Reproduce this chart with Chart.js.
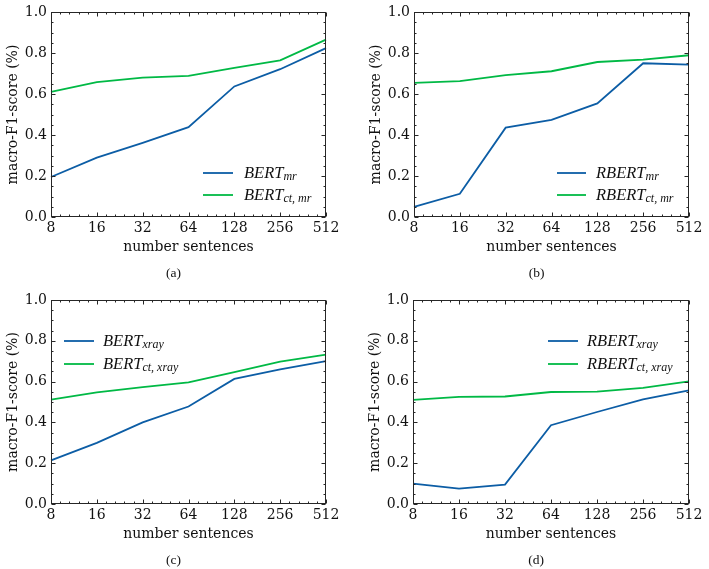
<!DOCTYPE html>
<html><head><meta charset="utf-8">
<script src="https://cdn.jsdelivr.net/npm/chart.js@4/dist/chart.umd.min.js"></script>
<style>
html,body{margin:0;padding:0;background:#fff;}
#wrap{position:relative;width:709px;height:569px;overflow:hidden;}
#wrap canvas{position:absolute;left:0;top:0;}
</style></head><body>
<div id="wrap">
<canvas id="ca" width="709" height="569"></canvas>
<canvas id="cb" width="709" height="569"></canvas>
<canvas id="cc" width="709" height="569"></canvas>
<canvas id="cd" width="709" height="569"></canvas>
</div>
<script>
// ---- data ----
const categories = ['8', '16', '32', '64', '128', '256', '512'];
const yTickValues = [0.0, 0.2, 0.4, 0.6, 0.8, 1.0];
const bertMr      = [0.195, 0.290, 0.362, 0.438, 0.637, 0.721, 0.824];
const bertCtMr    = [0.610, 0.658, 0.680, 0.688, 0.727, 0.764, 0.865];
const rbertMr     = [0.049, 0.113, 0.436, 0.474, 0.554, 0.750, 0.743];
const rbertCtMr   = [0.654, 0.663, 0.692, 0.711, 0.756, 0.768, 0.789];
const bertXray    = [0.214, 0.300, 0.400, 0.478, 0.613, 0.660, 0.700];
const bertCtXray  = [0.512, 0.547, 0.573, 0.596, 0.647, 0.698, 0.732];
const rbertXray   = [0.100, 0.075, 0.095, 0.386, 0.451, 0.513, 0.557];
const rbertCtXray = [0.510, 0.525, 0.527, 0.549, 0.551, 0.569, 0.601];
const captions = ['(a)', '(b)', '(c)', '(d)'];
const xTitle = 'number sentences';
const yTitle = 'macro-F1-score (%)';

// ---- style ----
const BLUE = '#0C5DA5', GREEN = '#00B945';
const W = 709, H = 569, YW = 51, XH = 45;
const SERIF = '"DejaVu Serif", serif';
const LEG = '"Liberation Serif", "Times New Roman", serif';

const framePlugin = {
  id: 'frame',
  afterDatasetsDraw(chart) {
    const {ctx, chartArea: a, scales: {x, y}} = chart;
    ctx.save();
    ctx.strokeStyle = '#262626';
    ctx.lineWidth = 1;
    const L = Math.round(a.left) + 0.5, R = Math.round(a.right) - 0.5;
    const T = Math.round(a.top) + 0.5, B = Math.round(a.bottom) - 0.5;
    ctx.strokeRect(L, T, R - L, B - T);
    ctx.beginPath();
    const n = categories.length - 1;
    for (let i = 0; i <= n * 5; i++) {
      const px = Math.round(x.getPixelForValue(i / 5)) + 0.5;
      const len = (i % 5 === 0) ? 4 : 2;
      ctx.moveTo(px, B); ctx.lineTo(px, B - len);
      ctx.moveTo(px, T); ctx.lineTo(px, T + len);
    }
    for (let j = 0; j <= 20; j++) {
      const py = Math.round(y.getPixelForValue(j * 0.05)) + 0.5;
      const len = (j % 4 === 0) ? 4 : 2;
      ctx.moveTo(L, py); ctx.lineTo(L + len, py);
      ctx.moveTo(R, py); ctx.lineTo(R - len, py);
    }
    ctx.stroke();
    ctx.restore();
  }
};

const legendPlugin = {
  id: 'subLegend',
  afterDraw(chart, args, opts) {
    const {ctx, chartArea: a} = chart;
    ctx.save();
    opts.items.forEach((it, k) => {
      const yy = a.top + opts.dy + k * opts.gap;
      ctx.strokeStyle = it.color; ctx.lineWidth = 1.8;
      ctx.beginPath();
      ctx.moveTo(a.left + opts.lx0, yy); ctx.lineTo(a.left + opts.lx1, yy);
      ctx.stroke();
      ctx.fillStyle = '#111';
      ctx.textBaseline = 'alphabetic';
      ctx.textAlign = 'left';
      ctx.font = 'italic 16.5px ' + LEG;
      const tx = a.left + opts.tx;
      ctx.fillText(it.main, tx, yy + 4.5);
      const w = ctx.measureText(it.main).width;
      ctx.font = 'italic 12px ' + LEG;
      ctx.fillText(it.sub, tx + w, yy + 7);
    });
    // caption
    ctx.fillStyle = '#111';
    ctx.font = '13.5px ' + LEG;
    ctx.textAlign = 'center';
    ctx.textBaseline = 'middle';
    ctx.fillText(opts.caption, (a.left + a.right) / 2 - 15, a.bottom + 56);
    ctx.restore();
  }
};

function makeChart(id, area, s1, s2, legend, caption) {
  return new Chart(document.getElementById(id), {
    type: 'line',
    data: {
      labels: categories,
      datasets: [
        {data: s1, borderColor: BLUE, borderWidth: 1.8, pointRadius: 0, tension: 0, fill: false},
        {data: s2, borderColor: GREEN, borderWidth: 1.8, pointRadius: 0, tension: 0, fill: false}
      ]
    },
    options: {
      responsive: false,
      devicePixelRatio: 1,
      animation: false,
      events: [],
      layout: {padding: {left: area.left - YW, top: area.top, right: W - area.right, bottom: H - area.bottom - XH}},
      plugins: {
        legend: {display: false},
        tooltip: {enabled: false},
        subLegend: Object.assign({caption}, legend)
      },
      scales: {
        x: {
          type: 'category',
          offset: false,
          grid: {display: false, drawTicks: false},
          border: {display: false},
          ticks: {autoSkip: false, maxRotation: 0, padding: 3, color: '#111', font: {family: SERIF, size: 14}},
          title: {display: true, text: xTitle, color: '#111', font: {family: SERIF, size: 14}, padding: {top: 0, bottom: 6}},
          afterFit(s) { s.height = XH; s.paddingLeft = 0; s.paddingRight = 0; s.paddingTop = 0; s.paddingBottom = 0; }
        },
        y: {
          type: 'linear',
          min: 0, max: 1,
          grid: {display: false, drawTicks: false},
          border: {display: false},
          afterBuildTicks(s) { s.ticks = yTickValues.map(v => ({value: v})); },
          ticks: {padding: 4, color: '#111', font: {family: SERIF, size: 14}, callback: v => Number(v).toFixed(1)},
          title: {display: true, text: yTitle, color: '#111', font: {family: SERIF, size: 14}, padding: {top: 5, bottom: 0}},
          afterFit(s) { s.width = YW; s.paddingLeft = 0; s.paddingRight = 0; s.paddingTop = 0; s.paddingBottom = 0; }
        }
      }
    },
    plugins: [framePlugin, legendPlugin]
  });
}

makeChart('ca', {left: 51, top: 12, right: 326, bottom: 217}, bertMr, bertCtMr,
  {lx0: 152, lx1: 182, tx: 193, dy: 161, gap: 22,
   items: [{color: BLUE, main: 'BERT', sub: 'mr'}, {color: GREEN, main: 'BERT', sub: 'ct, mr'}]}, captions[0]);
makeChart('cb', {left: 414, top: 12, right: 689, bottom: 217}, rbertMr, rbertCtMr,
  {lx0: 143, lx1: 172, tx: 182, dy: 161, gap: 22,
   items: [{color: BLUE, main: 'RBERT', sub: 'mr'}, {color: GREEN, main: 'RBERT', sub: 'ct, mr'}]}, captions[1]);
makeChart('cc', {left: 51, top: 300, right: 326, bottom: 504}, bertXray, bertCtXray,
  {lx0: 13, lx1: 43, tx: 52, dy: 41, gap: 23,
   items: [{color: BLUE, main: 'BERT', sub: 'xray'}, {color: GREEN, main: 'BERT', sub: 'ct, xray'}]}, captions[2]);
makeChart('cd', {left: 413, top: 300, right: 689, bottom: 504}, rbertXray, rbertCtXray,
  {lx0: 135, lx1: 165, tx: 174, dy: 41, gap: 23,
   items: [{color: BLUE, main: 'RBERT', sub: 'xray'}, {color: GREEN, main: 'RBERT', sub: 'ct, xray'}]}, captions[3]);
</script>
</body></html>
